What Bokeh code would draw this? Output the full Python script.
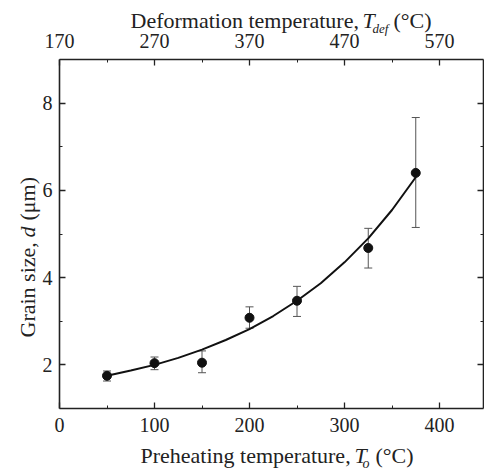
import math
from bokeh.plotting import figure
from bokeh.models import (LinearAxis, Range1d, FixedTicker, Whisker, TeeHead,
                          ColumnDataSource, Label)
from bokeh.embed import file_html
from bokeh.resources import INLINE

# ---- data ----
preheat_T = [50, 100, 150, 200, 250, 325, 375]
grain_d = [1.75, 2.04, 2.05, 3.08, 3.47, 4.68, 6.40]
err_upper = [1.86, 2.18, 2.32, 3.33, 3.80, 5.13, 7.67]
err_lower = [1.63, 1.89, 1.82, 2.84, 3.11, 4.22, 5.15]

fit_T = [50, 75, 100, 125, 150, 175, 200, 225, 250, 275, 300, 325, 350, 375]
fit_d = [1.75, 1.87, 2.00, 2.16, 2.35, 2.57, 2.82, 3.12, 3.47, 3.87, 4.35, 4.90, 5.55, 6.30]

bottom_ticks = [0, 100, 200, 300, 400]
bottom_minor = [50, 150, 250, 350]
top_ticks = [170, 270, 370, 470, 570]
top_minor = [220, 320, 420, 520]
y_ticks = [2, 4, 6, 8]
y_minor = [3, 5, 7]

# axis box extents (data units)
XA, XB = 0, 446.3
YA, YB = 1, 9
OFFSET = 170

FONT = "Liberation Serif"
W, H = 484, 472
# box position in canvas pixels
BL, BT = 59, 59
PX_X = 0.95            # px per x unit
PX_Y = 43.625          # px per y unit

x_start = XA - BL / PX_X
x_end = XA + (W - BL) / PX_X
y_end = YB + BT / PX_Y
y_start = YB - (H - BT) / PX_Y

p = figure(width=W, height=H, x_range=Range1d(x_start, x_end),
           y_range=Range1d(y_start, y_end), output_backend="svg", toolbar_location=None,
           min_border=0, x_axis_location=None, y_axis_location=None)
p.extra_x_ranges = {"top": Range1d(x_start + OFFSET, x_end + OFFSET)}
p.xgrid.visible = False
p.ygrid.visible = False
p.outline_line_color = None
p.background_fill_color = "white"
p.border_fill_color = "white"

INK = "#222222"

def style(ax, ticks, minor, bounds, loc, labels=True, standoff=6):
    ax.ticker = FixedTicker(ticks=ticks, minor_ticks=minor)
    ax.bounds = bounds
    ax.fixed_location = loc
    ax.axis_line_color = INK
    ax.axis_line_width = 1.6
    ax.major_tick_line_color = INK
    ax.minor_tick_line_color = INK
    ax.major_tick_line_width = 1.3
    ax.minor_tick_line_width = 1.0
    ax.major_tick_in = 6
    ax.major_tick_out = 0
    ax.minor_tick_in = 3
    ax.minor_tick_out = 0
    ax.major_label_text_font = FONT
    ax.major_label_text_color = INK
    ax.major_label_text_font_size = "20px"
    ax.major_label_standoff = standoff
    if not labels:
        ax.major_label_overrides = {t: "" for t in ticks}

bx = LinearAxis()
style(bx, bottom_ticks, bottom_minor, (XA, XB), YA, standoff=9)
p.add_layout(bx, "below")
tx = LinearAxis(x_range_name="top")
style(tx, top_ticks, top_minor, (XA + OFFSET, XB + OFFSET), YB, standoff=12)
p.add_layout(tx, "above")
ly = LinearAxis()
style(ly, y_ticks, y_minor, (YA, YB), XA, standoff=7)
p.add_layout(ly, "left")
ry = LinearAxis()
style(ry, y_ticks, y_minor, (YA, YB), XB, labels=False)
p.add_layout(ry, "right")

# fitted curve
p.line(fit_T, fit_d, line_color="#111111", line_width=2)

# error bars
src = ColumnDataSource(dict(x=preheat_T, y=grain_d, upper=err_upper, lower=err_lower))
wh = Whisker(base="x", upper="upper", lower="lower", source=src,
             line_color="#555555", line_width=1,
             upper_head=TeeHead(size=8, line_color="#555555", line_width=1),
             lower_head=TeeHead(size=8, line_color="#555555", line_width=1))
p.add_layout(wh)
p.scatter("x", "y", source=src, size=9, color="#111111")

# ---- axis titles composed of text pieces (canvas-pixel positions -> data units) ----
def dx(px):
    return XA + (px - BL) / PX_X

def dy(py):
    return YB - (py - BT) / PX_Y

def lab(text, px, py, size="22px", style="normal", angle=0.0):
    p.add_layout(Label(x=dx(px), y=dy(py), text=text, text_font=FONT,
                       text_font_size=size, text_font_style=style,
                       text_color=INK, text_align="left",
                       text_baseline="alphabetic", angle=angle))

# bottom title
lab("Preheating temperature,", 140, 455)
lab("T", 354, 455, style="italic")
lab("o", 362, 463, size="14px", style="italic")
lab("(\u00b0C)", 375, 455)

# top title
lab("Deformation temperature,", 130, 20)
lab("T", 362, 20, style="italic")
lab("def", 372, 28, size="13px", style="italic")
lab("(\u00b0C)", 393, 20)

# left title (rotated)
A = math.pi / 2
lab("Grain size,", 27, 337, angle=A)
lab("d", 27, 237, style="italic", angle=A)
lab("(\u03bcm)", 27, 220, angle=A)

open("out.html", "w").write(file_html(p, INLINE))
